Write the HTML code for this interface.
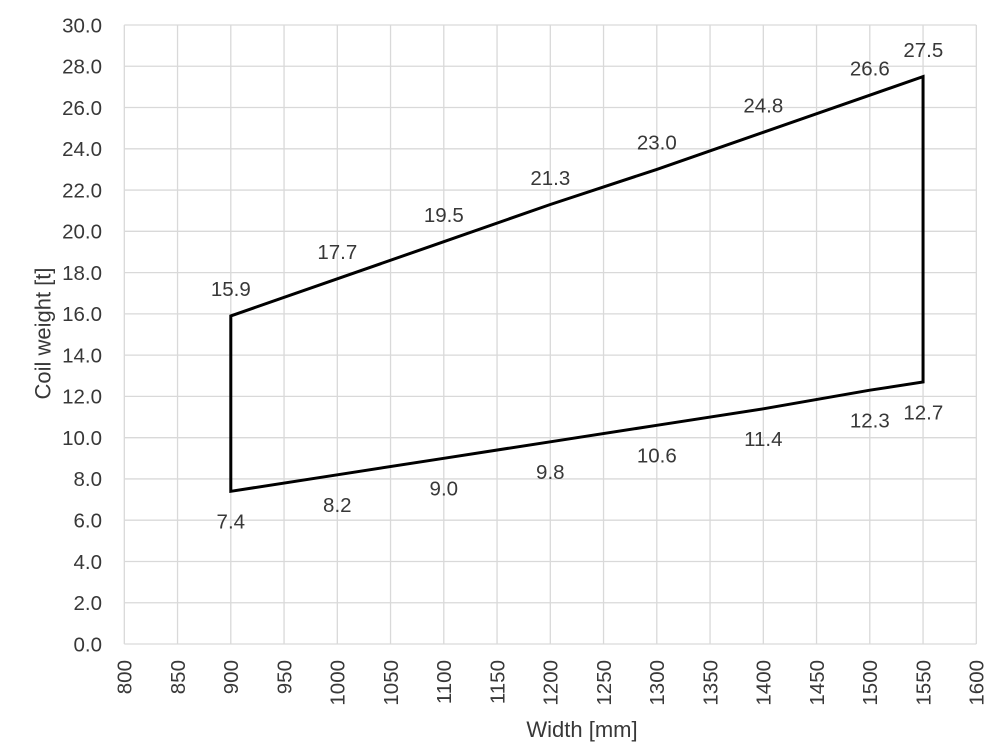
<!DOCTYPE html>
<html>
<head>
<meta charset="utf-8">
<style>
  html, body { margin: 0; padding: 0; background: #fff; }
  svg { display: block; }
  text { font-family: "Liberation Sans", "DejaVu Sans", sans-serif; fill: #383838; }
</style>
</head>
<body>
<svg width="1000" height="750" viewBox="0 0 1000 750" xmlns="http://www.w3.org/2000/svg">
  <rect width="1000" height="750" fill="#fff"/>
  <g stroke="#d9d9d9" stroke-width="1.3" fill="none">
    <line x1="124.3" y1="25" x2="124.3" y2="644"/>
    <line x1="177.55" y1="25" x2="177.55" y2="644"/>
    <line x1="230.8" y1="25" x2="230.8" y2="644"/>
    <line x1="284.05" y1="25" x2="284.05" y2="644"/>
    <line x1="337.3" y1="25" x2="337.3" y2="644"/>
    <line x1="390.55" y1="25" x2="390.55" y2="644"/>
    <line x1="443.8" y1="25" x2="443.8" y2="644"/>
    <line x1="497.05" y1="25" x2="497.05" y2="644"/>
    <line x1="550.3" y1="25" x2="550.3" y2="644"/>
    <line x1="603.55" y1="25" x2="603.55" y2="644"/>
    <line x1="656.8" y1="25" x2="656.8" y2="644"/>
    <line x1="710.05" y1="25" x2="710.05" y2="644"/>
    <line x1="763.3" y1="25" x2="763.3" y2="644"/>
    <line x1="816.55" y1="25" x2="816.55" y2="644"/>
    <line x1="869.8" y1="25" x2="869.8" y2="644"/>
    <line x1="923.05" y1="25" x2="923.05" y2="644"/>
    <line x1="976.3" y1="25" x2="976.3" y2="644"/>
    <line x1="124.3" y1="644" x2="976.3" y2="644"/>
    <line x1="124.3" y1="602.73" x2="976.3" y2="602.73"/>
    <line x1="124.3" y1="561.47" x2="976.3" y2="561.47"/>
    <line x1="124.3" y1="520.2" x2="976.3" y2="520.2"/>
    <line x1="124.3" y1="478.93" x2="976.3" y2="478.93"/>
    <line x1="124.3" y1="437.67" x2="976.3" y2="437.67"/>
    <line x1="124.3" y1="396.4" x2="976.3" y2="396.4"/>
    <line x1="124.3" y1="355.13" x2="976.3" y2="355.13"/>
    <line x1="124.3" y1="313.87" x2="976.3" y2="313.87"/>
    <line x1="124.3" y1="272.6" x2="976.3" y2="272.6"/>
    <line x1="124.3" y1="231.33" x2="976.3" y2="231.33"/>
    <line x1="124.3" y1="190.07" x2="976.3" y2="190.07"/>
    <line x1="124.3" y1="148.8" x2="976.3" y2="148.8"/>
    <line x1="124.3" y1="107.53" x2="976.3" y2="107.53"/>
    <line x1="124.3" y1="66.27" x2="976.3" y2="66.27"/>
    <line x1="124.3" y1="25" x2="976.3" y2="25"/>
  </g>

  <g font-size="20.5" text-anchor="end">
    <text x="102" y="651.3">0.0</text>
    <text x="102" y="610">2.0</text>
    <text x="102" y="568.8">4.0</text>
    <text x="102" y="527.5">6.0</text>
    <text x="102" y="486.2">8.0</text>
    <text x="102" y="445">10.0</text>
    <text x="102" y="403.7">12.0</text>
    <text x="102" y="362.4">14.0</text>
    <text x="102" y="321.2">16.0</text>
    <text x="102" y="279.9">18.0</text>
    <text x="102" y="238.6">20.0</text>
    <text x="102" y="197.4">22.0</text>
    <text x="102" y="156.1">24.0</text>
    <text x="102" y="114.8">26.0</text>
    <text x="102" y="73.6">28.0</text>
    <text x="102" y="32.3">30.0</text>
  </g>

  <g font-size="20.5" text-anchor="end">
    <text transform="translate(131.5,660) rotate(-90)">800</text>
    <text transform="translate(184.75,660) rotate(-90)">850</text>
    <text transform="translate(238,660) rotate(-90)">900</text>
    <text transform="translate(291.25,660) rotate(-90)">950</text>
    <text transform="translate(344.5,660) rotate(-90)">1000</text>
    <text transform="translate(397.75,660) rotate(-90)">1050</text>
    <text transform="translate(451,660) rotate(-90)">1100</text>
    <text transform="translate(504.25,660) rotate(-90)">1150</text>
    <text transform="translate(557.5,660) rotate(-90)">1200</text>
    <text transform="translate(610.75,660) rotate(-90)">1250</text>
    <text transform="translate(664,660) rotate(-90)">1300</text>
    <text transform="translate(717.25,660) rotate(-90)">1350</text>
    <text transform="translate(770.5,660) rotate(-90)">1400</text>
    <text transform="translate(823.75,660) rotate(-90)">1450</text>
    <text transform="translate(877,660) rotate(-90)">1500</text>
    <text transform="translate(930.25,660) rotate(-90)">1550</text>
    <text transform="translate(983.5,660) rotate(-90)">1600</text>
  </g>

  <text font-size="22" text-anchor="middle" transform="translate(50.5,333.5) rotate(-90)">Coil weight [t]</text>
  <text font-size="22" text-anchor="middle" x="582" y="737">Width [mm]</text>

  <polygon fill="none" stroke="#000" stroke-width="3" stroke-linejoin="miter"
    points="230.8,315.93 337.3,278.8 443.8,241.7 550.3,204.5 656.8,169.4 763.3,132.3 869.8,95.2 923.05,76.6 923.05,382.0 869.8,390.2 763.3,408.8 656.8,425.3 550.3,441.8 443.8,458.3 337.3,474.8 230.8,491.3"/>

  <g font-size="20.5" text-anchor="middle">
    <text x="230.8" y="296.2">15.9</text>
    <text x="337.3" y="259.1">17.7</text>
    <text x="443.8" y="222">19.5</text>
    <text x="550.3" y="184.8">21.3</text>
    <text x="656.8" y="149.7">23.0</text>
    <text x="763.3" y="112.6">24.8</text>
    <text x="869.8" y="75.5">26.6</text>
    <text x="923.3" y="56.9">27.5</text>
  </g>
  <g font-size="20.5" text-anchor="middle">
    <text x="230.8" y="528.6">7.4</text>
    <text x="337.3" y="512.1">8.2</text>
    <text x="443.8" y="495.6">9.0</text>
    <text x="550.3" y="479.1">9.8</text>
    <text x="656.8" y="462.6">10.6</text>
    <text x="763.3" y="446.1">11.4</text>
    <text x="869.8" y="427.5">12.3</text>
    <text x="923.3" y="419.3">12.7</text>
  </g>
</svg>
</body>
</html>
